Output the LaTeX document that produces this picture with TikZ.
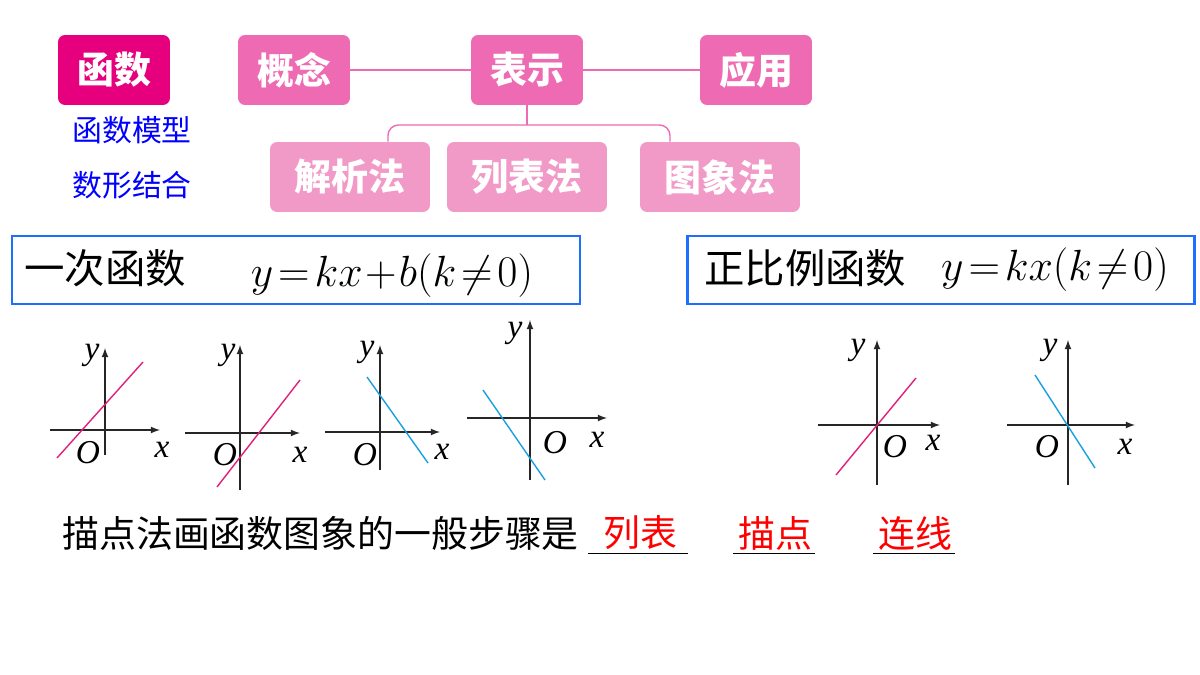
\documentclass[tikz,border=0pt]{standalone}
\usepackage{fontspec}
\newfontfamily\cjk{Noto Sans CJK SC}
\setmainfont{Liberation Serif}
\definecolor{hotpink}{HTML}{E6007E}
\definecolor{midpink}{HTML}{EE6AB2}
\definecolor{lightpink}{HTML}{F29AC7}
\definecolor{boxblue}{HTML}{1E6FFF}
\definecolor{linered}{HTML}{E0207A}
\definecolor{lineblue}{HTML}{1A9FE0}
\tikzset{
  topic/.style={rounded corners=4pt, text=white, font=\cjk\fontsize{21}{21}\selectfont\bfseries,
    minimum width=2.24cm, minimum height=1.4cm, inner sep=0pt},
  method/.style={topic, fill=lightpink, minimum width=3.2cm},
  frame/.style={draw=boxblue, line width=1.6pt, minimum height=1.36cm, inner sep=0pt},
  axis/.style={->, >=latex, thick, black!85},
  graphline/.style={line width=0.8pt},
  lbl/.style={font=\fontsize{19}{19}\selectfont\itshape}
}
\begin{document}
\begin{tikzpicture}[x=0.02cm, y=-0.02cm]
  \useasboundingbox (0,0) rectangle (1200,675);
  % concept map
  \node[topic, fill=hotpink] (fn) at (114,70) {函数};
  \node[topic, fill=midpink] (gn) at (294,70) {概念};
  \node[topic, fill=midpink] (bs) at (527,70) {表示};
  \node[topic, fill=midpink] (yy) at (756,70) {应用};
  \node[method] (jx) at (350,177) {解析法};
  \node[method] (lb) at (527,177) {列表法};
  \node[method] (tx) at (720,177) {图象法};
  \draw[midpink, thick] (gn) -- (bs) (bs) -- (yy);
  \draw[midpink, thick, rounded corners=6pt] (jx.north -| 388,0) -- (388,125) -- (670,125) -- (tx.north -| 670,0);
  \draw[midpink, thick, rounded corners=4pt] (bs.south) -- (527,125);
  \node[blue, font=\cjk\fontsize{17}{17}\selectfont] (mx) at (132,130) {函数模型};
  \node[blue, font=\cjk\fontsize{17}{17}\selectfont] (sx) at (132,185) {数形结合};
  % formula boxes
  \node[frame, minimum width=11.36cm] (ycf) at (296,270) {};
  \node[font=\cjk\fontsize{23}{23}\selectfont, anchor=west] (ycl) at (18,268) {一次函数};
  \node[font=\fontsize{29}{29}\selectfont] (ycm) at (392,276) {$y\!=\!kx\!+\!b(k\!\neq\!0)$};
  \node[frame, minimum width=10.14cm] (zbf) at (941,270) {};
  \node[font=\cjk\fontsize{23}{23}\selectfont, anchor=west] (zbl) at (698,268) {正比例函数};
  \node[font=\fontsize{29}{29}\selectfont] (zbm) at (1055,270) {$y\!=\!kx(k\!\neq\!0)$};
  % graphs
  \foreach \ox/\oy/\xl/\xr/\yt/\yb/\ax/\ay/\bx/\by/\col in {
      105/430/50/160/348/455/57/458/143/362/linered,
      240/433/185/300/345/490/217/487/300/380/linered,
      380/432/325/440/345/470/367/377/428/463/lineblue,
      530/418/467/607/320/480/483/390/545/480/lineblue,
      877/425/818/940/340/485/836/475/916/378/linered,
      1068/425/1007/1135/340/485/1035/375/1095/468/lineblue}{
    \draw[axis] (\xl,\oy) -- (\xr,\oy);
    \draw[axis] (\ox,\yb) -- (\ox,\yt);
    \draw[graphline, \col] (\ax,\ay) -- (\bx,\by);
  }
  \foreach \px/\py/\t in {92/355/y, 88/453/O, 162/450/x, 228/355/y, 225/455/O, 300/455/x,
      367/352/y, 365/455/O, 442/452/x, 515/333/y, 555/443/O, 597/440/x,
      858/350/y, 895/447/O, 933/443/x, 1050/350/y, 1047/447/O, 1125/447/x}
    \node[lbl] at (\px,\py) {\t};
  % steps
  \node[font=\cjk\fontsize{21}{21}\selectfont, anchor=west, inner sep=0pt] (st) at (62,533) {描点法画函数图象的一般步骤是};
  \node[red, font=\cjk\fontsize{21}{21}\selectfont] (s1) at (640,533) {列表};
  \node[red, font=\cjk\fontsize{21}{21}\selectfont] (s2) at (775,533) {描点};
  \node[red, font=\cjk\fontsize{21}{21}\selectfont] (s3) at (915,533) {连线};
  \draw (588,553) -- (688,553) (733,553) -- (815,553) (873,553) -- (955,553);
\end{tikzpicture}
\end{document}
